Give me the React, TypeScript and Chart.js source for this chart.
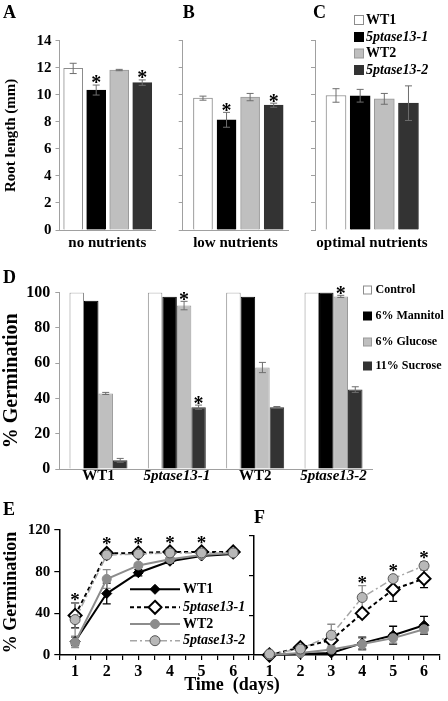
import React, { useEffect, useRef } from "react";
import { Chart, registerables } from "chart.js";

Chart.register(...registerables);

const W = 448;
const H = 701;
const SERIF = '"Liberation Serif", "Times New Roman", Times, serif';

// ---------- Panels A–C: root length (mm) ----------
const genotypes = ["WT1", "5ptase13-1", "WT2", "5ptase13-2"];
const genotypeItalic = [false, true, false, true];
const rootYTicks = [0, 2, 4, 6, 8, 10, 12, 14];
const rootNoNutrients = [11.95, 10.35, 11.83, 10.9];
const rootNoNutrientsSE = [0.38, 0.37, 0.05, 0.2];
const rootNoNutrientsSig = [false, true, false, true];
const rootLowNutrients = [9.75, 8.15, 9.83, 9.23];
const rootLowNutrientsSE = [0.15, 0.55, 0.27, 0.15];
const rootLowNutrientsSig = [false, true, false, true];
const rootOptimalNutrients = [9.95, 9.93, 9.7, 9.38];
const rootOptimalNutrientsSE = [0.5, 0.47, 0.4, 1.28];
const rootOptimalNutrientsSig = [false, false, false, false];

// ---------- Panel D: % germination under osmotic / sugar stress ----------
const treatments = ["Control", "6% Mannitol", "6% Glucose", "11% Sucrose"];
const germYTicks = [0, 20, 40, 60, 80, 100];
const germControl = [100, 100, 100, 100];
const germMannitol = [95.3, 97.6, 97.6, 100];
const germGlucose = [42.8, 92.6, 57.5, 97.8];
const germSucrose = [4.9, 35, 35, 45];
const germControlSE = [0, 0, 0, 0];
const germMannitolSE = [0, 0, 0, 0];
const germGlucoseSE = [0.6, 2.4, 2.9, 0.6];
const germSucroseSE = [1.1, 1.2, 0.4, 1.6];
const germControlSig = [false, false, false, false];
const germMannitolSig = [false, false, false, false];
const germGlucoseSig = [false, true, false, true];
const germSucroseSig = [false, true, false, false];

// ---------- Panels E, F: germination time course ----------
const days = [1, 2, 3, 4, 5, 6];
const timeYTicks = [0, 40, 80, 120];
const eWT1 = [13, 59, 79, 90, 95, 97];
const e5ptase1 = [38, 97.5, 98, 99, 99, 99];
const eWT2 = [12, 73, 86, 92, 96, 98];
const e5ptase2 = [34, 96, 97, 98, 98, 98];
const eWT1SE = [4, 10, 3, 2, 1, 1];
const e5ptase1SE = [12, 2, 1, 1, 1, 1];
const eWT2SE = [5, 9, 2, 2, 1, 1];
const e5ptase2SE = [16, 2, 1, 1, 1, 1];
const eSig = [true, true, true, true, true, false];
const fWT1 = [0, 1, 2, 12, 20, 30];
const f5ptase1 = [0, 7.5, 15, 42, 66, 77];
const fWT2 = [0, 2, 5.5, 11, 17, 26];
const f5ptase2 = [1, 6, 20, 58, 77, 90];
const fWT1SE = [0, 1, 1, 6, 9, 9];
const f5ptase1SE = [0, 1, 3, 3, 12, 9];
const fWT2SE = [0, 1, 1, 6, 5, 4];
const f5ptase2SE = [0, 1, 11, 12, 2, 4];
const fSig = [false, false, false, true, true, true];

// ---------- styles ----------
const barFill = ["#ffffff", "#000000", "#bfbfbf", "#333333"];
const barEdge = ["#8c8c8c", "#000000", "#999999", "#333333"];
const AXIS_GREY = "#a0a0a0";
const lineStyles = [
  { color: "#000000", dash: [] as number[], lw: 2, shape: "rectRot", r: 5, fill: "#000000", edge: "#000000", ew: 1, err: "#000000" },
  { color: "#000000", dash: [4, 3], lw: 2, shape: "rectRot", r: 6.5, fill: "#ffffff", edge: "#000000", ew: 2, err: "#000000" },
  { color: "#8c8c8c", dash: [] as number[], lw: 2, shape: "circle", r: 4.5, fill: "#8c8c8c", edge: "#8c8c8c", ew: 1, err: "#8c8c8c" },
  { color: "#a6a6a6", dash: [7, 3, 2, 3], lw: 1.5, shape: "circle", r: 5, fill: "#b8b8b8", edge: "#555555", ew: 1, err: "#8c8c8c" },
];

const axisFont = (size: number, italic = false) => ({
  family: SERIF,
  size,
  weight: "bold" as const,
  style: (italic ? "italic" : "normal") as "italic" | "normal",
  lineHeight: 1.2,
});

function text(ctx: CanvasRenderingContext2D, s: string, x: number, y: number, size: number, o: { italic?: boolean; align?: CanvasTextAlign; baseline?: CanvasTextBaseline } = {}) {
  ctx.save();
  ctx.font = `${o.italic ? "italic " : ""}bold ${size}px ${SERIF}`;
  ctx.fillStyle = "#000";
  ctx.textAlign = o.align ?? "left";
  ctx.textBaseline = o.baseline ?? "alphabetic";
  ctx.fillText(s, x, y);
  ctx.restore();
}

function asterisk(ctx: CanvasRenderingContext2D, x: number, centerY: number, size = 20) {
  text(ctx, "*", x, centerY + 0.47 * size, size, { align: "center" });
}

function errBar(ctx: CanvasRenderingContext2D, x: number, yTop: number, yBot: number, half: number, color: string, lw: number) {
  ctx.save();
  ctx.strokeStyle = color;
  ctx.lineWidth = lw;
  ctx.setLineDash([]);
  ctx.beginPath();
  ctx.moveTo(x, yTop);
  ctx.lineTo(x, yBot);
  ctx.moveTo(x - half, yTop);
  ctx.lineTo(x + half, yTop);
  ctx.moveTo(x - half, yBot);
  ctx.lineTo(x + half, yBot);
  ctx.stroke();
  ctx.restore();
}

function marker(ctx: CanvasRenderingContext2D, st: any, x: number, y: number) {
  ctx.save();
  ctx.setLineDash([]);
  ctx.beginPath();
  if (st.shape === "rectRot") {
    ctx.moveTo(x, y - st.r);
    ctx.lineTo(x + st.r, y);
    ctx.lineTo(x, y + st.r);
    ctx.lineTo(x - st.r, y);
    ctx.closePath();
  } else {
    ctx.arc(x, y, st.r, 0, Math.PI * 2);
  }
  ctx.fillStyle = st.fill;
  ctx.fill();
  ctx.lineWidth = st.ew;
  ctx.strokeStyle = st.edge;
  ctx.stroke();
  ctx.restore();
}

function barDecor(values: number[][], se: number[][], sig: boolean[][], extra: (ctx: CanvasRenderingContext2D) => void) {
  return {
    id: "barDecor",
    afterDatasetsDraw(chart: any) {
      const ctx = chart.ctx as CanvasRenderingContext2D;
      const ys = chart.scales.y;
      values.forEach((vals, k) => {
        const meta = chart.getDatasetMeta(k);
        vals.forEach((v, i) => {
          const x = meta.data[i].x;
          const e = se[k][i];
          if (e > 0) errBar(ctx, x, ys.getPixelForValue(v + e), ys.getPixelForValue(v - e), 3.5, "#6e6e6e", 1);
          if (sig[k][i]) asterisk(ctx, x, ys.getPixelForValue(v + e) - 5, 20);
        });
      });
    },
    afterDraw(chart: any) {
      extra(chart.ctx);
    },
  };
}

function rootChart(canvas: HTMLCanvasElement, cfg: any) {
  return new Chart(canvas, {
    type: "bar",
    data: {
      datasets: [
        {
          label: cfg.title,
          data: cfg.values.map((v: number, i: number) => ({ x: i + 1, y: v })),
          backgroundColor: barFill,
          borderColor: barEdge,
          borderWidth: 1,
          barThickness: cfg.barW,
        },
      ],
    },
    options: {
      responsive: false,
      animation: false,
      devicePixelRatio: 1,
      layout: { padding: { left: cfg.axisX - cfg.yWidth, right: W - cfg.right, top: 40.7, bottom: 449 } },
      plugins: { legend: { display: false }, tooltip: { enabled: false } },
      scales: {
        x: {
          type: "linear",
          min: cfg.xMin,
          max: cfg.xMax,
          offset: false,
          ticks: { display: false },
          grid: { display: false, offset: false },
          border: { display: cfg.xLine, color: AXIS_GREY, width: 1 },
          title: { display: true, text: cfg.title, color: "#000", font: axisFont(15), padding: 0 },
          afterFit: (s: any) => {
            s.height = 22;
          },
        },
        y: {
          min: rootYTicks[0],
          max: rootYTicks[rootYTicks.length - 1],
          afterBuildTicks: (s: any) => {
            s.ticks = rootYTicks.map((v) => ({ value: v }));
          },
          ticks: { display: cfg.tickLabels, color: "#000", font: axisFont(15), padding: 4 },
          grid: { drawOnChartArea: false, drawTicks: true, tickLength: 4, color: AXIS_GREY },
          border: { color: AXIS_GREY, width: 1 },
          title: { display: cfg.tickLabels, text: "Root length (mm)", color: "#000", font: axisFont(15), padding: { top: 2, bottom: 0 } },
          afterFit: (s: any) => {
            s.width = cfg.yWidth;
          },
        },
      },
    } as any,
    plugins: [barDecor([cfg.values], [cfg.se], [cfg.sig], cfg.extra)],
  });
}

function germChart(canvas: HTMLCanvasElement) {
  const series = [germControl, germMannitol, germGlucose, germSucrose];
  const se = [germControlSE, germMannitolSE, germGlucoseSE, germSucroseSE];
  const sig = [germControlSig, germMannitolSig, germGlucoseSig, germSucroseSig];
  const legendY = [290, 316, 342, 366];
  return new Chart(canvas, {
    type: "bar",
    data: {
      labels: genotypes,
      datasets: treatments.map((t, k) => ({
        label: t,
        data: series[k],
        backgroundColor: barFill[k],
        borderColor: barEdge[k],
        borderWidth: 1,
        categoryPercentage: 0.74,
        barPercentage: 1,
      })),
    },
    options: {
      responsive: false,
      animation: false,
      devicePixelRatio: 1,
      layout: { padding: { left: 0, right: W - 372.7, top: 292.5, bottom: 202 } },
      plugins: { legend: { display: false }, tooltip: { enabled: false } },
      scales: {
        x: {
          ticks: {
            color: "#000",
            padding: 0,
            font: (c: any) => ({ family: SERIF, size: 15, weight: "bold", style: genotypeItalic[c.index] ? "italic" : "normal", lineHeight: 1 }),
          },
          grid: { display: false, drawTicks: false },
          border: { color: AXIS_GREY, width: 1 },
          afterFit: (s: any) => {
            s.height = 30;
          },
        },
        y: {
          min: germYTicks[0],
          max: germYTicks[germYTicks.length - 1],
          afterBuildTicks: (s: any) => {
            s.ticks = germYTicks.map((v) => ({ value: v }));
          },
          ticks: { color: "#000", font: axisFont(16), padding: 5 },
          grid: { drawOnChartArea: false, drawTicks: true, tickLength: 4, color: AXIS_GREY },
          border: { color: AXIS_GREY, width: 1 },
          title: { display: true, text: "% Germination", color: "#000", font: axisFont(20), padding: { top: 0, bottom: 0 } },
          afterFit: (s: any) => {
            s.width = 59.3;
          },
        },
      },
    } as any,
    plugins: [
      barDecor(series, se, sig, (ctx) => {
        text(ctx, "D", 3, 283.3, 18);
        treatments.forEach((t, k) => {
          ctx.save();
          ctx.fillStyle = barFill[k];
          ctx.strokeStyle = barEdge[k];
          ctx.lineWidth = 1;
          ctx.fillRect(363.5, legendY[k] - 4, 8, 8);
          ctx.strokeRect(363.5, legendY[k] - 4, 8, 8);
          ctx.restore();
          text(ctx, t, 375.5, legendY[k], 12, { baseline: "middle" });
        });
      }),
    ],
  });
}

function timeChart(canvas: HTMLCanvasElement, cfg: any) {
  const series: number[][] = cfg.series;
  const se: number[][] = cfg.se;
  return new Chart(canvas, {
    type: "line",
    data: {
      datasets: series.map((vals, k) => ({
        label: genotypes[k],
        data: days.map((d, i) => ({ x: d, y: vals[i] })),
        borderColor: lineStyles[k].color,
        borderWidth: lineStyles[k].lw,
        borderDash: lineStyles[k].dash,
        pointStyle: lineStyles[k].shape,
        pointRadius: lineStyles[k].r,
        pointBackgroundColor: lineStyles[k].fill,
        pointBorderColor: lineStyles[k].edge,
        pointBorderWidth: lineStyles[k].ew,
        order: 3 - k,
        clip: false,
        tension: 0,
        fill: false,
      })),
    },
    options: {
      responsive: false,
      animation: false,
      devicePixelRatio: 1,
      layout: { padding: { left: cfg.axisX - cfg.yWidth, right: W - cfg.right, top: cfg.top, bottom: 6 } },
      plugins: { legend: { display: false }, tooltip: { enabled: false } },
      scales: {
        x: {
          type: "linear",
          min: 0.5,
          max: 6.5,
          offset: false,
          ticks: {
            stepSize: 0.5,
            autoSkip: false,
            maxRotation: 0,
            color: "#000",
            font: axisFont(16),
            padding: 2,
            callback: (v: any) => (Number.isInteger(v) && days.includes(v) ? String(v) : ""),
          },
          grid: { drawOnChartArea: false, drawTicks: true, tickLength: 5, color: "#000", lineWidth: 1.2 },
          border: { color: "#000", width: 1.5 },
          afterFit: (s: any) => {
            s.height = 40;
          },
        },
        y: {
          min: timeYTicks[0],
          max: timeYTicks[timeYTicks.length - 1],
          afterBuildTicks: (s: any) => {
            s.ticks = timeYTicks.map((v) => ({ value: v }));
          },
          ticks: { display: cfg.yLabels, color: "#000", font: axisFont(15), padding: 4 },
          grid: { drawOnChartArea: false, drawTicks: true, tickLength: 5, color: "#000", lineWidth: 1.2 },
          border: { color: "#000", width: 1.5 },
          title: { display: cfg.yLabels, text: "% Germination", color: "#000", font: axisFont(18), padding: { top: 1, bottom: 0 } },
          afterFit: (s: any) => {
            s.width = cfg.yWidth;
          },
        },
      },
    } as any,
    plugins: [
      {
        id: "timeDecor",
        beforeDatasetsDraw(chart: any) {
          const ctx = chart.ctx as CanvasRenderingContext2D;
          const xs = chart.scales.x;
          const ys = chart.scales.y;
          series.forEach((vals, k) => {
            vals.forEach((v, i) => {
              const e = se[k][i];
              if (!e) return;
              errBar(ctx, xs.getPixelForValue(days[i]), ys.getPixelForValue(v + e), ys.getPixelForValue(v - e), 4, lineStyles[k].err, 1.3);
            });
          });
        },
        afterDatasetsDraw(chart: any) {
          const ctx = chart.ctx as CanvasRenderingContext2D;
          const xs = chart.scales.x;
          const ys = chart.scales.y;
          days.forEach((d, i) => {
            if (!cfg.sig[i]) return;
            let top = Infinity;
            series.forEach((vals, k) => {
              top = Math.min(top, ys.getPixelForValue(vals[i] + se[k][i]), ys.getPixelForValue(vals[i]) - lineStyles[k].r);
            });
            asterisk(ctx, xs.getPixelForValue(d), top - 5.5, 19);
          });
        },
        afterDraw(chart: any) {
          cfg.extra(chart.ctx);
        },
      },
    ],
  });
}

function drawTimeLegend(ctx: CanvasRenderingContext2D) {
  const rows = [589.3, 607.3, 624, 640.7];
  genotypes.forEach((g, k) => {
    const st = lineStyles[k];
    ctx.save();
    ctx.strokeStyle = st.color;
    ctx.lineWidth = st.lw;
    ctx.setLineDash(st.dash);
    ctx.beginPath();
    ctx.moveTo(130, rows[k]);
    ctx.lineTo(180, rows[k]);
    ctx.stroke();
    ctx.restore();
    marker(ctx, st, 155, rows[k]);
    text(ctx, g, 183, rows[k], 14, { italic: genotypeItalic[k], baseline: "middle" });
  });
}

function drawRootLegend(ctx: CanvasRenderingContext2D) {
  const rows = [20, 37, 53.5, 70];
  genotypes.forEach((g, k) => {
    ctx.save();
    ctx.fillStyle = barFill[k];
    ctx.strokeStyle = barEdge[k];
    ctx.lineWidth = 1;
    ctx.fillRect(354.5, rows[k] - 4.5, 9, 9);
    ctx.strokeRect(354.5, rows[k] - 4.5, 9, 9);
    ctx.restore();
    text(ctx, g, 366, rows[k], 14, { italic: genotypeItalic[k], baseline: "middle" });
  });
}

export default function App() {
  const r0 = useRef<HTMLCanvasElement>(null);
  const r1 = useRef<HTMLCanvasElement>(null);
  const r2 = useRef<HTMLCanvasElement>(null);
  const r3 = useRef<HTMLCanvasElement>(null);
  const r4 = useRef<HTMLCanvasElement>(null);
  const r5 = useRef<HTMLCanvasElement>(null);
  const refs = [r0, r1, r2, r3, r4, r5];

  useEffect(() => {
    const charts: Chart[] = [];
    charts.push(
      rootChart(r0.current!, {
        values: rootNoNutrients, se: rootNoNutrientsSE, sig: rootNoNutrientsSig,
        axisX: 59.5, yWidth: 59.5, right: 155, xMin: 0.406, xMax: 4.555, barW: 19,
        title: "no nutrients", tickLabels: true, xLine: true,
        extra: (ctx: CanvasRenderingContext2D) => text(ctx, "A", 3, 18.3, 18),
      })
    );
    charts.push(
      rootChart(r1.current!, {
        values: rootLowNutrients, se: rootLowNutrientsSE, sig: rootLowNutrientsSig,
        axisX: 182.7, yWidth: 12.7, right: 288.3, xMin: 0.14, xMax: 4.62, barW: 19,
        title: "low nutrients", tickLabels: false, xLine: true,
        extra: (ctx: CanvasRenderingContext2D) => text(ctx, "B", 182.7, 18.3, 18),
      })
    );
    charts.push(
      rootChart(r2.current!, {
        values: rootOptimalNutrients, se: rootOptimalNutrientsSE, sig: rootOptimalNutrientsSig,
        axisX: 315, yWidth: 15, right: 429, xMin: 0.13, xMax: 4.85, barW: 20,
        title: "optimal nutrients", tickLabels: false, xLine: false,
        extra: (ctx: CanvasRenderingContext2D) => {
          text(ctx, "C", 313, 18.3, 18);
          drawRootLegend(ctx);
        },
      })
    );
    charts.push(germChart(r3.current!));
    charts.push(
      timeChart(r4.current!, {
        series: [eWT1, e5ptase1, eWT2, e5ptase2],
        se: [eWT1SE, e5ptase1SE, eWT2SE, e5ptase2SE],
        sig: eSig, axisX: 59.3, yWidth: 59.3, right: 249, top: 530, yLabels: true,
        extra: (ctx: CanvasRenderingContext2D) => {
          text(ctx, "E", 3, 515, 18);
          drawTimeLegend(ctx);
        },
      })
    );
    charts.push(
      timeChart(r5.current!, {
        series: [fWT1, f5ptase1, fWT2, f5ptase2],
        se: [fWT1SE, f5ptase1SE, fWT2SE, f5ptase2SE],
        sig: fSig, axisX: 254, yWidth: 14, right: 441.5, top: 536, yLabels: false,
        extra: (ctx: CanvasRenderingContext2D) => {
          text(ctx, "F", 254, 523, 18);
          text(ctx, "Time  (days)", 232, 690, 18, { align: "center" });
        },
      })
    );
    return () => charts.forEach((c) => c.destroy());
  }, []);

  return (
    <div style={{ position: "absolute", left: 0, top: 0, width: W, height: H, background: "#ffffff", overflow: "hidden" }}>
      {refs.map((r, i) => (
        <canvas key={i} ref={r} width={W} height={H} style={{ position: "absolute", left: 0, top: 0, width: W, height: H }} />
      ))}
    </div>
  );
}
